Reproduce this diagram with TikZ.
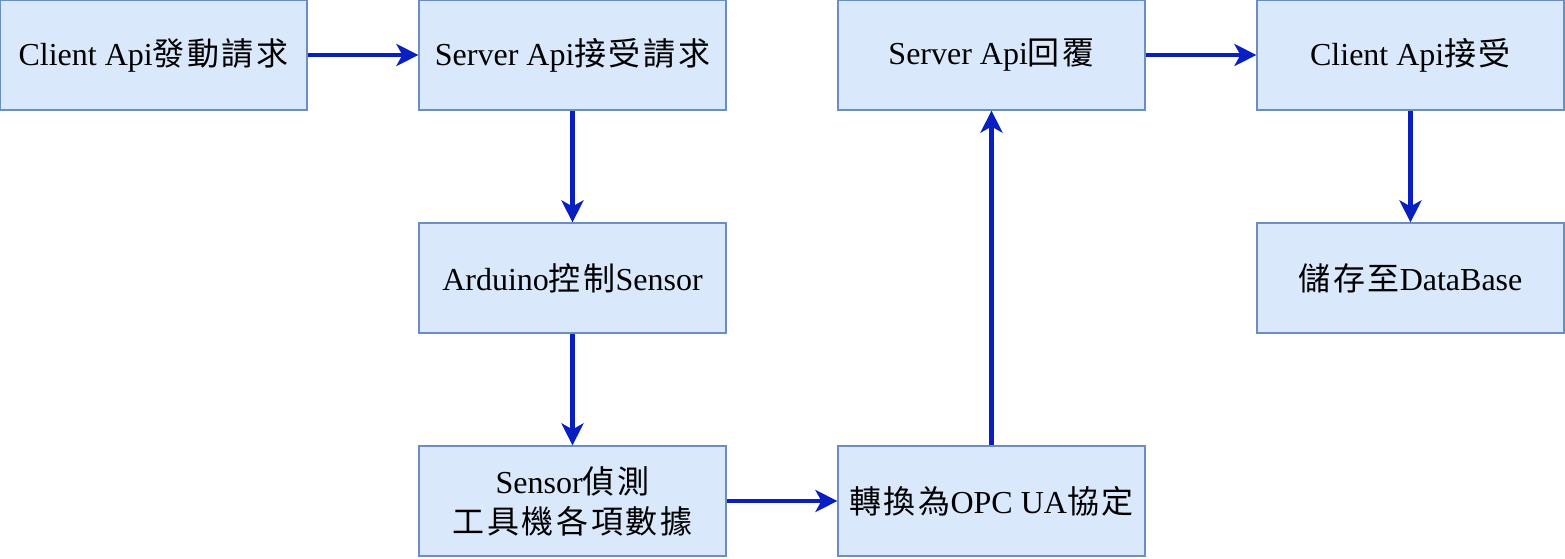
\documentclass[tikz,border=0pt]{standalone}
\usepackage{fontspec}
\setmainfont{Liberation Serif}
\newfontfamily\cjk[LetterSpace=8]{Noto Sans CJK TC}
\usetikzlibrary{arrows.meta,positioning}
\definecolor{boxfill}{HTML}{DAE8FC}
\definecolor{boxline}{HTML}{6C8EBF}
\definecolor{flowblue}{HTML}{0A1FBF}
\tikzset{
	stepbox/.style={draw=boxline, fill=boxfill, line width=0.6pt, minimum width=153.5pt, minimum height=55pt, inner sep=0pt, align=center, font=\fontsize{16}{20}\selectfont},
	flow/.style={-{Stealth[length=11pt,width=11pt,inset=3pt]}, flowblue, line width=2.2pt}
}
\begin{document}
\begin{tikzpicture}[x=0.5pt,y=-0.5pt]
		\useasboundingbox (0,0) rectangle (1565,558);

		% top row
		\node[stepbox] (req) at (153.5,55) {Client Api{\cjk 發動請求}};
		\node[stepbox] (recv) at (572.5,55) {Server Api{\cjk 接受請求}};
		\node[stepbox] (reply) at (991.5,55) {Server Api{\cjk 回覆}};
		\node[stepbox] (accept) at (1410.5,55) {Client Api{\cjk 接受}};

		% middle row
		\node[stepbox] (ctrl) at (572.5,278) {Arduino{\cjk 控制}Sensor};
		\node[stepbox] (store) at (1410.5,278) {{\cjk 儲存至}DataBase};

		% bottom row
		\node[stepbox] (sense) at (572.5,501) {Sensor{\cjk 偵測}\\{\cjk 工具機各項數據}};
		\node[stepbox] (opcua) at (991.5,501) {{\cjk 轉換為}OPC UA{\cjk 協定}};

		% flow
		\draw[flow] (req) -- (recv);
		\draw[flow] (recv) -- (ctrl);
		\draw[flow] (ctrl) -- (sense);
		\draw[flow] (sense) -- (opcua);
		\draw[flow] (opcua) -- (reply);
		\draw[flow] (reply) -- (accept);
		\draw[flow] (accept) -- (store);
	\end{tikzpicture}
\end{document}
